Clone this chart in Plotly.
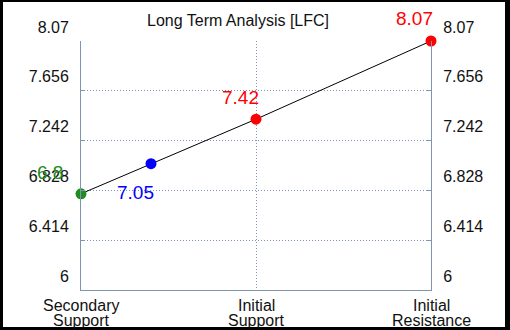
import plotly.graph_objects as go

title = "Long Term Analysis [LFC]"
categories = ["Secondary Support", "Initial Support", "Initial Resistance"]
point_x = [0, 0.4, 1, 2]
point_y = [6.8, 7.05, 7.42, 8.07]
point_labels = ["6.8", "7.05", "7.42", "8.07"]
point_colors = ["#228B22", "#0000FF", "#FF0000", "#FF0000"]
label_offsets = [(-31, 21), (-16, -29), (-16, 22), (-17, 23)]
y_ticks = [6, 6.414, 6.828, 7.242, 7.656, 8.07]
y_ticktext = ["6", "6.414", "6.828", "7.242", "7.656", "8.07"]

W, H = 510, 330
ML, MR, MT, MB = 81, 79, 41, 40
PW, PH = W - ML - MR, H - MT - MB
AX = "#7f93b3"
FONT = "Liberation Sans, Arial, sans-serif"

fig = go.Figure()
fig.add_trace(go.Scatter(x=point_x, y=point_y, mode="lines",
                         line=dict(color="black", width=1), hoverinfo="skip",
                         showlegend=False, cliponaxis=False))
fig.add_trace(go.Scatter(x=point_x, y=point_y, mode="markers",
                         marker=dict(color=point_colors, size=11),
                         showlegend=False, cliponaxis=False))
# invisible trace for right axis
fig.add_trace(go.Scatter(x=[0], y=[6], yaxis="y2", mode="markers",
                         marker=dict(opacity=0), showlegend=False, hoverinfo="skip"))

anns = []
for x, y, t, c, (dx, dy) in zip(point_x, point_y, point_labels, point_colors, label_offsets):
    anns.append(dict(x=x, y=y, text=t, showarrow=False, xshift=dx, yshift=dy,
                     font=dict(size=19, color=c, family=FONT)))

def px2x(px):
    return (px - ML) / PW

def py2y(py):
    return (H - MB - py) / PH

for i, cat in enumerate(categories):
    words = cat.split(" ")
    lines = [words[0], " ".join(words[1:])]
    for j, ln in enumerate(lines):
        anns.append(dict(x=i, y=0, xref="x", yref="paper", text=ln, showarrow=False,
                         yanchor="middle", yshift=-(15 + 15 * j),
                         font=dict(size=16, color="#111", family=FONT)))

anns.append(dict(x=px2x(238), y=py2y(10), xref="paper", yref="paper", text=title,
                 showarrow=False, font=dict(size=16, color="#111", family=FONT)))

shapes = []
for (x0, y0, x1, y1) in [(0, 0, 3, H), (505, 0, W, H), (0, 0, W, 2), (0, 327, W, H)]:
    shapes.append(dict(type="rect", xref="paper", yref="paper",
                       x0=px2x(x0), x1=px2x(x1), y0=py2y(y1), y1=py2y(y0),
                       fillcolor="black", line=dict(width=0), layer="above"))

yax = dict(range=[6, 8.07], tickvals=y_ticks, ticktext=y_ticktext,
           showgrid=True, gridcolor=AX, griddash="1px,2px", gridwidth=1,
           showline=True, linecolor=AX, linewidth=1, ticks="inside",
           ticklen=4, tickcolor=AX, zeroline=False,
           tickfont=dict(size=16, color="#111", family=FONT),
           ticklabelshift=-14, ticklabelstandoff=8)

fig.update_layout(
    width=W, height=H, margin=dict(l=ML, r=MR, t=MT, b=MB),
    paper_bgcolor="white", plot_bgcolor="white",
    xaxis=dict(range=[0, 2], tickvals=[0, 1, 2], showticklabels=False,
               showgrid=True, gridcolor=AX, griddash="1px,2px", gridwidth=1,
               showline=True, linecolor=AX, linewidth=1, zeroline=False,
               ticks=""),
    yaxis=yax,
    yaxis2=dict(yax, overlaying="y", side="right", showgrid=False),
    annotations=anns, shapes=shapes,
)

fig.write_html("out.html", config={"displayModeBar": False},
               post_script="document.body.style.margin='0';")
